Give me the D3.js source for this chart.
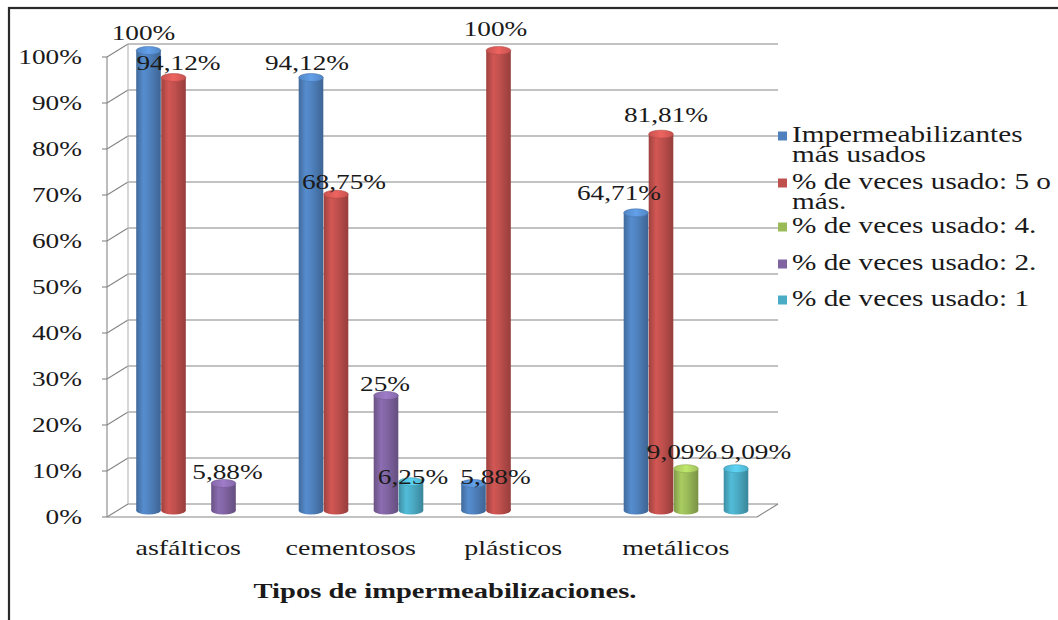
<!DOCTYPE html>
<html>
<head>
<meta charset="utf-8">
<script src="https://cdn.jsdelivr.net/npm/d3@7"></script>
<style>
  html, body { margin: 0; padding: 0; background: #fff; }
  svg { display: block; }
  text { font-family: "Liberation Serif", "Times New Roman", serif; fill: #1a1a1a; }
</style>
</head>
<body>
<svg id="chart" width="1058" height="620"></svg>
<script>
// ---- data ----
const categories = ["asfálticos", "cementosos", "plásticos", "metálicos"];
const seriesNames = [
  ["Impermeabilizantes", "más usados"],
  ["% de veces usado: 5 o", "más."],
  ["% de veces usado: 4."],
  ["% de veces usado: 2."],
  ["% de veces usado: 1"]
];
const masUsados   = [100, 94.12, 5.88, 64.71];
const cincoOMas   = [94.12, 68.75, 100, 81.81];
const cuatroVeces = [null, null, null, 9.09];
const dosVeces    = [5.88, 25, null, null];
const unaVez      = [null, 6.25, null, 9.09];
const yTicks = [0, 10, 20, 30, 40, 50, 60, 70, 80, 90, 100];
const axisTitle = "Tipos de impermeabilizaciones.";

const seriesValues = [masUsados, cincoOMas, cuatroVeces, dosVeces, unaVez];
const colors = ["#4f81bd", "#c0504d", "#9bbb59", "#8064a2", "#4bacc6"];

// ---- layout ----
const svg = d3.select("#chart");
const stretch = 1.3;                 // horizontal text stretch
const front = { x: 107, y: 517 };    // front-left corner of the floor
const back = { dx: 21, dy: -13 };    // offset of the back wall
const mid = { dx: 10, dy: -6.5 };    // plane in which the cylinders stand
const plotW = 650, plotH = 460;

const y = d3.scaleLinear().domain([0, 100]).range([0, plotH]);
const x0 = d3.scaleBand().domain(categories).range([0, plotW]);
const x1 = d3.scaleBand().domain(d3.range(seriesValues.length)).range([19, 144]);

// small nudges keep neighbouring value labels from colliding
const labelNudge = {
  "0|0": [-5, -18], "0|1": [5, -15], "0|3": [4, -11],
  "1|0": [-4, -15], "1|1": [8, -12], "1|3": [-1, -12], "1|4": [2, -5],
  "2|0": [22, -6], "2|1": [-3, -22],
  "3|0": [-17, -20], "3|1": [5, -19], "3|2": [-4, -17], "3|4": [20, -17]
};

function stretchedText(g, x, yPos, str, opts = {}) {
  const t = g.append("g").attr("transform", `translate(${x},${yPos}) scale(${stretch},1)`)
    .append("text")
    .attr("text-anchor", opts.anchor || "middle")
    .attr("font-size", opts.size || 21)
    .attr("font-weight", opts.weight || "normal")
    .text(str);
  if (opts.fill) t.style("fill", opts.fill);
  return t;
}

// outer frame
svg.append("rect").attr("x", 9).attr("y", 8).attr("width", 1100).attr("height", 700)
  .attr("fill", "none").attr("stroke", "#2a2a2a").attr("stroke-width", 2.2);

// ---- walls and gridlines ----
const grid = svg.append("g").attr("stroke", "#858585").attr("stroke-width", 1.1).attr("fill", "none");
yTicks.forEach(v => {
  const fy = front.y - y(v);
  // back wall gridline
  grid.append("line")
    .attr("x1", front.x + back.dx).attr("x2", front.x + back.dx + plotW)
    .attr("y1", fy + back.dy).attr("y2", fy + back.dy);
  // side wall diagonal
  grid.append("line")
    .attr("x1", front.x).attr("y1", fy)
    .attr("x2", front.x + back.dx).attr("y2", fy + back.dy);
  // tick
  grid.append("line").attr("x1", front.x - 5).attr("x2", front.x).attr("y1", fy).attr("y2", fy);
});
// front vertical axis and back wall edge
grid.append("line").attr("x1", front.x).attr("x2", front.x)
  .attr("y1", front.y - y(100)).attr("y2", front.y);
grid.append("line").attr("x1", front.x + back.dx).attr("x2", front.x + back.dx)
  .attr("y1", front.y - y(100) + back.dy).attr("y2", front.y + back.dy).attr("stroke", "#b5b5b5");
// floor front edge and right edge
grid.append("line").attr("x1", front.x).attr("x2", front.x + plotW)
  .attr("y1", front.y).attr("y2", front.y);
grid.append("line").attr("x1", front.x + plotW).attr("y1", front.y)
  .attr("x2", front.x + plotW + back.dx).attr("y2", front.y + back.dy);

// y tick labels
const yLab = svg.append("g");
yTicks.forEach(v => stretchedText(yLab, 82, front.y - y(v) + 7, `${v}%`, { anchor: "end", size: 21 }));

// ---- cylinders ----
const defs = svg.append("defs");
colors.forEach((c, i) => {
  const base = d3.color(c);
  const g = defs.append("linearGradient").attr("id", `body${i}`).attr("x1", 0).attr("x2", 1).attr("y1", 0).attr("y2", 0);
  g.append("stop").attr("offset", "0%").attr("stop-color", base.darker(0.55));
  g.append("stop").attr("offset", "30%").attr("stop-color", base.brighter(0.25));
  g.append("stop").attr("offset", "55%").attr("stop-color", base);
  g.append("stop").attr("offset", "100%").attr("stop-color", base.darker(0.7));
  const t = defs.append("linearGradient").attr("id", `top${i}`).attr("x1", 0).attr("x2", 1).attr("y1", 0).attr("y2", 0);
  t.append("stop").attr("offset", "0%").attr("stop-color", base.brighter(0.1));
  t.append("stop").attr("offset", "50%").attr("stop-color", base.brighter(0.6));
  t.append("stop").attr("offset", "100%").attr("stop-color", base.brighter(0.1));
});

const rx = 12.3, ry = 4;
const baseY = front.y + mid.dy;
const bars = svg.append("g");
const labels = [];
categories.forEach((cat, ci) => {
  seriesValues.forEach((vals, si) => {
    const v = vals[ci];
    if (v == null) return;
    const cx = front.x + mid.dx + x0(cat) + x1(si) + x1.bandwidth() / 2;
    const top = baseY - y(v);
    const g = bars.append("g");
    g.append("ellipse").attr("cx", cx).attr("cy", baseY).attr("rx", rx).attr("ry", ry)
      .attr("fill", `url(#body${si})`);
    g.append("rect").attr("x", cx - rx).attr("y", top).attr("width", rx * 2).attr("height", baseY - top)
      .attr("fill", `url(#body${si})`);
    g.append("ellipse").attr("cx", cx).attr("cy", top).attr("rx", rx).attr("ry", ry)
      .attr("fill", `url(#top${si})`).attr("stroke", d3.color(colors[si]).darker(0.3)).attr("stroke-width", 0.6);
    const n = labelNudge[`${ci}|${si}`] || [0, -15];
    const txt = Number.isInteger(v) ? `${v}%` : `${d3.format(".2f")(v).replace(".", ",")}%`;
    labels.push({ x: cx + n[0], y: top + n[1] + 7, txt });
  });
});

// value labels
const labG = svg.append("g");
labels.forEach(d => stretchedText(labG, d.x, d.y, d.txt, { size: 21 }));

// category labels
const catG = svg.append("g");
categories.forEach(cat => stretchedText(catG, front.x + x0(cat) + x0.bandwidth() / 2, 555, cat, { size: 21.5 }));

// axis title
stretchedText(svg.append("g"), 445, 598, axisTitle, { size: 22, weight: "bold" });

// ---- legend ----
const legend = svg.append("g");
const legendRows = [136, 183, 227, 264, 300];
seriesNames.forEach((lines, i) => {
  const cy = legendRows[i];
  legend.append("rect").attr("x", 778).attr("y", cy - 4.5).attr("width", 9).attr("height", 9).attr("fill", colors[i]);
  lines.forEach((ln, k) => stretchedText(legend, 792, cy + 6 + k * 19.5, ln, { anchor: "start", size: 22.5 }));
});
</script>
</body>
</html>
